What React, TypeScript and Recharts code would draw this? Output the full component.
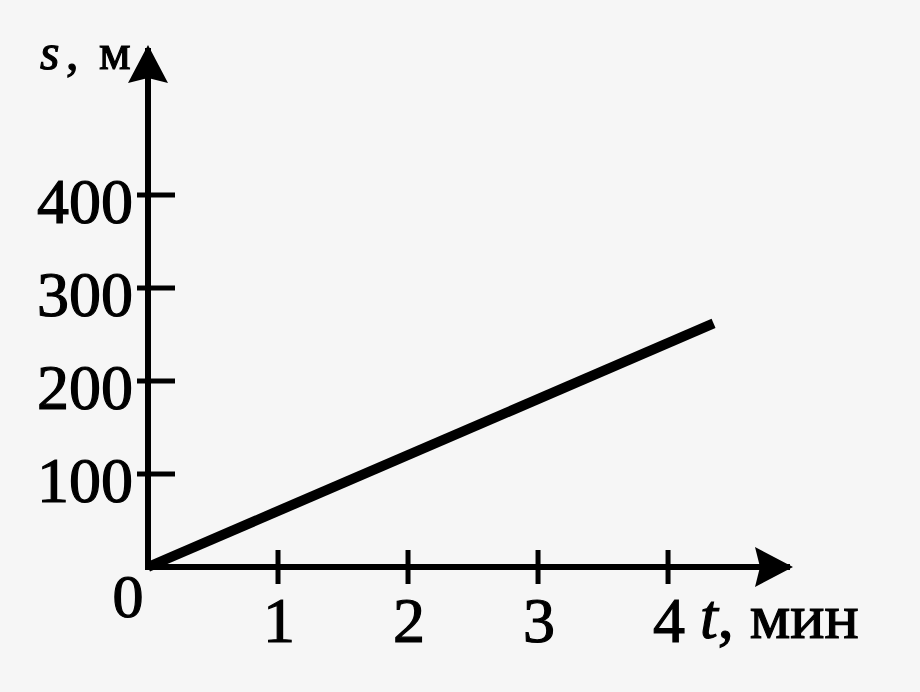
import { LineChart, Line, XAxis, YAxis } from "recharts";

// s(t) graph: distance in metres vs time in minutes
const tValues = [0, 4.35];
const sValues = [0, 262];
const xTicks = [0, 1, 2, 3, 4];
const yTicks = [100, 200, 300, 400];

const data = tValues.map((t, i) => ({ t, s: sValues[i] }));

const FONT = '"Liberation Serif", "Times New Roman", serif';
const INK = "#000";
const BG = "#f6f6f6";

// the scan looks heavy, so give the glyphs a thin outline
const textStyle = { fontFamily: FONT, fill: INK, stroke: INK, strokeWidth: 1.2 };

function XTick(props: any) {
  const { x, y, payload } = props;
  if (payload.value === 0) {
    return (
      <text x={x - 20} y={y + 50} textAnchor="middle" fontSize={62} {...textStyle}>
        0
      </text>
    );
  }
  return (
    <g>
      <line x1={x} y1={y - 17} x2={x} y2={y + 17} stroke={INK} strokeWidth={5} />
      <text x={x + 1} y={y + 75} textAnchor="middle" fontSize={64} {...textStyle}>
        {payload.value}
      </text>
    </g>
  );
}

function YTick(props: any) {
  const { x, y, payload } = props;
  return (
    <g>
      <line x1={x - 11} y1={y} x2={x + 27} y2={y} stroke={INK} strokeWidth={5} />
      <text x={x - 15} y={y + 28} textAnchor="end" fontSize={64} {...textStyle}>
        {payload.value}
      </text>
    </g>
  );
}

function XLabel(props: any) {
  const { viewBox } = props;
  const x0 = viewBox.x + 552;
  const y0 = viewBox.y + 71;
  return (
    <text x={x0} y={y0} fontSize={64} {...textStyle}>
      <tspan fontStyle="italic">t</tspan>
      <tspan>, мин</tspan>
    </text>
  );
}

function YLabel(props: any) {
  const { viewBox } = props;
  const y0 = viewBox.y + 18;
  return (
    <text y={y0} fontSize={50} {...textStyle}>
      <tspan x={40} fontStyle="italic">s</tspan>
      <tspan x={66}>,</tspan>
      <tspan x={99}>м</tspan>
    </text>
  );
}

export default function App() {
  return (
    <div style={{ width: 920, height: 692, background: BG, position: "relative" }}>
      <style>{`html,body{margin:0;padding:0;background:${BG};}`}</style>
      <svg width={0} height={0} style={{ position: "absolute" }}>
        <defs>
          <marker
            id="arrowHead"
            viewBox="0 0 38 40"
            refX={32}
            refY={20}
            markerWidth={38}
            markerHeight={40}
            markerUnits="userSpaceOnUse"
            orient="auto-start-reverse"
          >
            <path d="M0,0 L38,20 L0,40 L5,20 z" fill={INK} />
          </marker>
        </defs>
      </svg>
      <LineChart width={920} height={692} data={data} margin={{ top: 51, right: 133, left: 0, bottom: 0 }}>
        <XAxis
          type="number"
          dataKey="t"
          domain={[0, 4.915]}
          ticks={xTicks}
          interval={0}
          height={125}
          tickSize={0}
          tickMargin={0}
          tickLine={false}
          tick={<XTick />}
          axisLine={{ stroke: INK, strokeWidth: 6, strokeLinecap: "square", markerEnd: "url(#arrowHead)" }}
          label={<XLabel />}
        />
        <YAxis
          type="number"
          dataKey="s"
          domain={[0, 555]}
          ticks={yTicks}
          interval={0}
          width={148}
          tickSize={0}
          tickMargin={0}
          tickLine={false}
          tick={<YTick />}
          axisLine={{ stroke: INK, strokeWidth: 6, strokeLinecap: "square", markerStart: "url(#arrowHead)" }}
          label={<YLabel />}
        />
        <Line
          type="linear"
          dataKey="s"
          stroke={INK}
          strokeWidth={10}
          dot={false}
          activeDot={false}
          isAnimationActive={false}
        />
      </LineChart>
    </div>
  );
}
